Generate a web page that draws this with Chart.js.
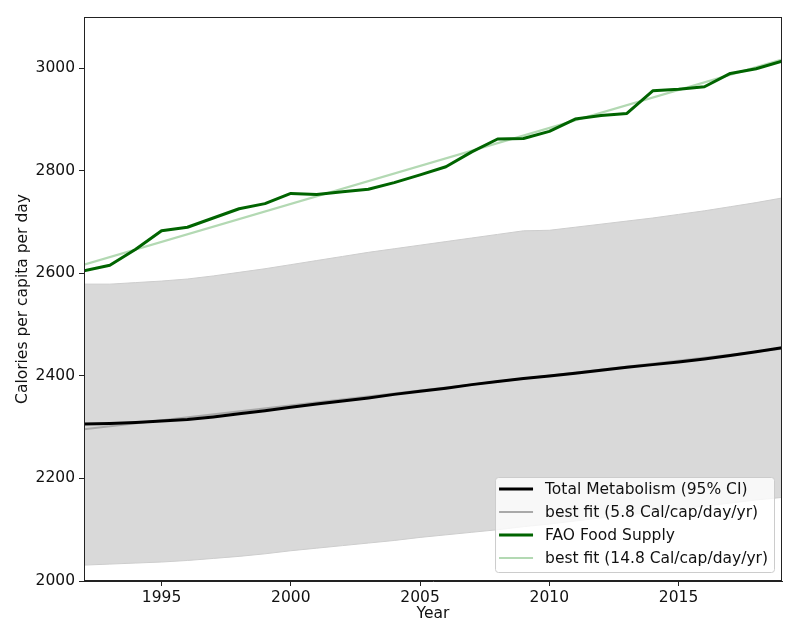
<!DOCTYPE html>
<html>
<head>
<meta charset="utf-8">
<title>Calories per capita per day</title>
<script src="https://cdn.jsdelivr.net/npm/chart.js@4.4.1/dist/chart.umd.min.js"></script>
<style>
  html, body { margin: 0; padding: 0; background: #fff; }
  #wrap { width: 799px; height: 640px; }
</style>
</head>
<body>
<div id="wrap"><canvas id="chart" width="799" height="640"></canvas></div>
<script>
// Metabolism vs FAO food supply, 1992-2019

const years = [1992, 1993, 1994, 1995, 1996, 1997, 1998, 1999, 2000, 2001, 2002, 2003, 2004, 2005,
               2006, 2007, 2008, 2009, 2010, 2011, 2012, 2013, 2014, 2015, 2016, 2017, 2018, 2019];
const faoSupply = [2605, 2616, 2647, 2683, 2690, 2708, 2726, 2736, 2756, 2754, 2759, 2764, 2777, 2792,
                   2808, 2837, 2862, 2863, 2877, 2901, 2908, 2912, 2956, 2959, 2964, 2990, 2999, 3014];
const metabolism = [2306, 2307, 2309, 2312, 2315, 2320, 2326, 2332, 2339, 2345, 2351, 2357, 2364, 2370,
                    2376, 2383, 2389, 2395, 2400, 2405, 2411, 2417, 2422, 2427, 2433, 2440, 2447, 2455];
const metabUpper = [2579, 2579, 2582, 2585, 2589, 2595, 2602, 2609, 2617, 2625, 2633, 2641, 2648, 2655,
                    2662, 2669, 2676, 2683, 2684, 2690, 2696, 2702, 2708, 2715, 2722, 2730, 2738, 2747];
const metabLower = [2031, 2033, 2035, 2037, 2040, 2044, 2048, 2053, 2059, 2064, 2069, 2074, 2079, 2085,
                    2090, 2095, 2100, 2106, 2111, 2117, 2123, 2129, 2134, 2140, 2146, 2152, 2158, 2163];
const fitYears = [1992, 2019];
const metabFit = [2296, 2453];
const faoFit = [2617, 3017];
const xTicks = [1995, 2000, 2005, 2010, 2015];
const yTicks = [2000, 2200, 2400, 2600, 2800, 3000];

const FONT = "'DejaVu Sans', sans-serif";
const FS = 15.5;
const INK = "#111";

function pts(xs, ys) { return xs.map((x, i) => ({ x, y: ys[i] })); }

// legend entries in matplotlib order: [dataset index, label]
const legendOrder = [
  [2, "Total Metabolism (95% CI)"],
  [3, "best fit (5.8 Cal/cap/day/yr)"],
  [0, "FAO Food Supply"],
  [1, "best fit (14.8 Cal/cap/day/yr)"],
];

const framePlugin = {
  id: "frame",
  afterDraw(chart) {
    const { ctx, chartArea: a } = chart;
    ctx.save();
    ctx.strokeStyle = "#222";
    ctx.lineWidth = 1;
    ctx.strokeRect(a.left + 0.5, a.top + 0.5, a.right - a.left - 1, a.bottom - a.top - 1);
    ctx.restore();
  },
};

const boxLegend = {
  id: "boxLegend",
  afterDraw(chart) {
    const { ctx, chartArea: a } = chart;
    const rowH = 23;
    ctx.save();
    ctx.font = `${FS}px ${FONT}`;
    const textW = Math.max(...legendOrder.map(([, l]) => ctx.measureText(l).width));
    const w = 50 + textW + 6, h = 95;
    const x0 = a.right - 8 - w, y0 = a.bottom - 9 - h;
    ctx.beginPath();
    ctx.roundRect(x0 + 0.5, y0 + 0.5, w, h, 3);
    ctx.fillStyle = "rgba(255,255,255,0.8)";
    ctx.fill();
    ctx.strokeStyle = "#cccccc";
    ctx.lineWidth = 1;
    ctx.stroke();
    legendOrder.forEach(([di, label], i) => {
      const ds = chart.data.datasets[di];
      const cy = y0 + 12 + i * rowH;
      ctx.beginPath();
      ctx.moveTo(x0 + 4, cy);
      ctx.lineTo(x0 + 38, cy);
      ctx.strokeStyle = ds.borderColor;
      ctx.lineWidth = ds.borderWidth;
      ctx.stroke();
      ctx.fillStyle = INK;
      ctx.textBaseline = "middle";
      ctx.textAlign = "left";
      ctx.fillText(label, x0 + 50, cy + 1);
    });
    ctx.restore();
  },
};

new Chart(document.getElementById("chart"), {
  type: "line",
  data: {
    datasets: [
      { label: "FAO Food Supply", data: pts(years, faoSupply), borderColor: "#006400", borderWidth: 3, fill: false },
      { label: "best fit (14.8 Cal/cap/day/yr)", data: pts(fitYears, faoFit), borderColor: "#b3d9b3", borderWidth: 2.2, fill: false },
      { label: "Total Metabolism (95% CI)", data: pts(years, metabolism), borderColor: "#000000", borderWidth: 3, fill: false },
      { label: "best fit (5.8 Cal/cap/day/yr)", data: pts(fitYears, metabFit), borderColor: "#a9a9a9", borderWidth: 2.2, fill: false },
      { label: "lower", data: pts(years, metabLower), borderColor: "#cdcdcd", borderWidth: 1, fill: false },
      { label: "upper", data: pts(years, metabUpper), borderColor: "#cdcdcd", borderWidth: 1,
        fill: "-1", backgroundColor: "#d9d9d9" },
    ],
  },
  options: {
    responsive: false,
    animation: false,
    devicePixelRatio: 1,
    layout: { padding: { left: 0, top: 17, right: 17, bottom: 0 } },
    elements: { point: { radius: 0 }, line: { tension: 0, borderCapStyle: "butt", borderJoinStyle: "round" } },
    plugins: { legend: { display: false }, tooltip: { enabled: false } },
    scales: {
      x: {
        type: "linear", bounds: "data", min: 1992, max: 2019,
        afterBuildTicks: s => { s.ticks = xTicks.map(v => ({ value: v })); },
        afterFit: s => { s.height = 59; },
        ticks: { autoSkip: false, maxRotation: 0, color: INK, padding: 3, font: { family: FONT, size: FS },
                 callback: v => String(v) },
        grid: { drawOnChartArea: false, drawTicks: true, tickLength: 5, color: "#222", tickWidth: 1 },
        border: { display: true, color: "#222", width: 1 },
        title: { display: true, text: "Year", color: INK, font: { family: FONT, size: FS }, padding: { top: 0, bottom: 16.5 } },
      },
      y: {
        type: "linear", bounds: "data", min: 2000, max: 3100,
        afterBuildTicks: s => { s.ticks = yTicks.map(v => ({ value: v })); },
        afterFit: s => { s.width = 84; },
        ticks: { autoSkip: false, color: INK, padding: 4, font: { family: FONT, size: FS },
                 callback: v => String(v) },
        grid: { drawOnChartArea: false, drawTicks: true, tickLength: 5, color: "#222", tickWidth: 1 },
        border: { display: true, color: "#222", width: 1 },
        title: { display: true, text: "Calories per capita per day", color: INK, font: { family: FONT, size: FS },
                 padding: { top: 13.5, bottom: 0 } },
      },
    },
  },
  plugins: [framePlugin, boxLegend],
});
</script>
</body>
</html>
